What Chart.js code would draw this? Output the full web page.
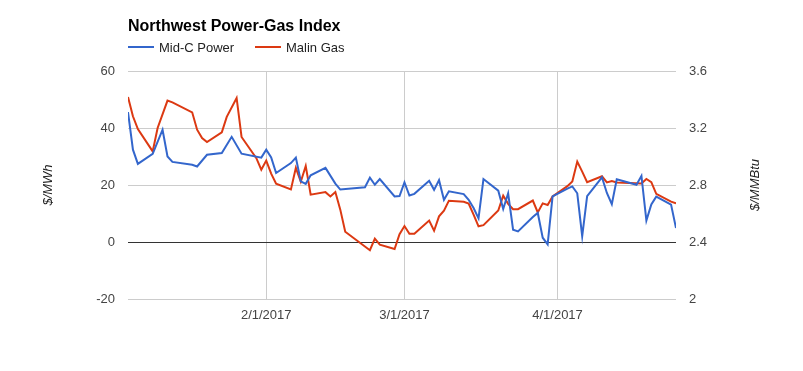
<!DOCTYPE html>
<html>
<head>
<meta charset="utf-8">
<script src="https://cdn.jsdelivr.net/npm/chart.js@4/dist/chart.umd.min.js"></script>
<style>
html,body{margin:0;padding:0;background:#fff;}
#wrap{width:803px;height:371px;position:relative;}
</style>
</head>
<body>
<div id="wrap"><canvas id="c" width="803" height="371"></canvas></div>
<script>
const chartTitle = 'Northwest Power-Gas Index';
const seriesNames = ['Mid-C Power', 'Malin Gas'];
const leftAxisTitle = '$/MWh';
const rightAxisTitle = '$/MMBtu';

// x values are day numbers counted from 1 Jan 2017 (= day 0)
const xRange = [3, 114];
const xTickDays = [31, 59, 90];
const xTickLabels = ['2/1/2017', '3/1/2017', '4/1/2017'];

const powerDays = [3,4,5,8,10,11,12,16,17,19,22,24,26,30,31,32,33,36,37,38,39,40,43,45,46,51,52,53,54,57,58,59,60,61,64,65,66,67,68,71,72,73,74,75,78,79,80,81,82,85,86,87,88,89,92,93,94,95,96,99,100,101,102,106,107,108,109,110,113,114];
const powerValues = [45.6,32.4,27.4,30.9,39.4,30.0,28.1,27.1,26.5,30.6,31.2,36.9,31.0,29.6,32.4,29.7,24.2,27.7,29.6,21.3,20.4,23.4,26.0,20.5,18.4,19.2,22.6,20.1,22.1,16.0,16.1,20.9,16.3,16.9,21.5,18.3,21.7,14.8,17.8,16.8,14.8,11.9,8.3,22.1,18.0,11.6,17.1,4.3,3.7,8.8,10.2,1.5,-0.8,16.0,18.7,19.5,17.1,2.0,16.1,22.7,17.2,13.3,22.0,20.1,23.2,7.5,13.2,15.9,13.1,4.9];

const gasDays = [3,4,5,8,9,11,12,16,17,18,19,22,23,25,26,29,30,31,32,33,36,37,38,39,40,43,44,45,46,47,52,53,54,57,58,59,60,61,64,65,66,67,68,71,72,73,74,75,78,79,80,81,82,85,86,87,88,89,92,93,94,95,96,99,100,101,102,107,108,109,110,113,114];
const gasValues = [3.418,3.282,3.193,3.036,3.200,3.392,3.380,3.310,3.188,3.130,3.102,3.170,3.278,3.411,3.137,2.988,2.908,2.971,2.880,2.809,2.769,2.920,2.823,2.934,2.732,2.750,2.720,2.751,2.627,2.472,2.342,2.423,2.381,2.351,2.455,2.512,2.458,2.458,2.550,2.479,2.580,2.620,2.690,2.682,2.670,2.592,2.510,2.518,2.621,2.725,2.668,2.630,2.630,2.691,2.608,2.671,2.660,2.720,2.792,2.825,2.964,2.894,2.820,2.861,2.818,2.828,2.818,2.811,2.842,2.820,2.738,2.683,2.671];

const leftRange = [-20, 60, 20];
const rightRange = [2, 3.6, 0.4];

const seriesColors = ['#3366cc', '#dc3912'];
const FONT = '"Liberation Sans", Arial, Helvetica, sans-serif';

const toPoints = (xs, ys) => xs.map((x, i) => ({x: x, y: ys[i]}));

const textPlugin = {
  id: 'texts',
  afterDraw(chart) {
    const ctx = chart.ctx;
    ctx.save();
    ctx.textAlign = 'left';
    ctx.textBaseline = 'alphabetic';
    ctx.fillStyle = '#000';
    ctx.font = 'bold 16px ' + FONT;
    ctx.fillText(chartTitle, 128, 31);
    // legend
    const legendX = [128, 255];
    ctx.font = '13px ' + FONT;
    seriesNames.forEach((name, i) => {
      ctx.strokeStyle = seriesColors[i];
      ctx.lineWidth = 2;
      ctx.beginPath();
      ctx.moveTo(legendX[i], 47);
      ctx.lineTo(legendX[i] + 26, 47);
      ctx.stroke();
      ctx.fillStyle = '#222';
      ctx.fillText(name, legendX[i] + 31, 52);
    });
    // axis titles
    ctx.font = 'italic 13px ' + FONT;
    ctx.fillStyle = '#222';
    ctx.textAlign = 'center';
    ctx.textBaseline = 'middle';
    const midY = (chart.chartArea.top + chart.chartArea.bottom) / 2;
    [[48, leftAxisTitle], [755, rightAxisTitle]].forEach(([x, t]) => {
      ctx.save();
      ctx.translate(x, midY);
      ctx.rotate(-Math.PI / 2);
      ctx.fillText(t, 0, 0);
      ctx.restore();
    });
    ctx.restore();
  }
};

new Chart(document.getElementById('c'), {
  type: 'line',
  data: {
    datasets: [
      {label: seriesNames[0], data: toPoints(powerDays, powerValues), yAxisID: 'y',
       borderColor: seriesColors[0], backgroundColor: seriesColors[0], borderWidth: 2,
       pointRadius: 0, tension: 0, fill: false},
      {label: seriesNames[1], data: toPoints(gasDays, gasValues), yAxisID: 'y1',
       borderColor: seriesColors[1], backgroundColor: seriesColors[1], borderWidth: 2,
       pointRadius: 0, tension: 0, fill: false}
    ]
  },
  options: {
    responsive: false,
    animation: false,
    devicePixelRatio: 1,
    layout: {padding: {top: 71, left: 0, right: 0, bottom: 0}},
    plugins: {legend: {display: false}, title: {display: false}, tooltip: {enabled: false}},
    scales: {
      x: {
        type: 'linear', position: 'bottom', min: xRange[0], max: xRange[1],
        afterBuildTicks: s => { s.ticks = xTickDays.map(v => ({value: v})); },
        afterFit: s => { s.height = 72; },
        ticks: {
          autoSkip: false, maxRotation: 0, padding: 9, color: '#444',
          font: {family: FONT, size: 13},
          callback: v => { const i = xTickDays.indexOf(v); return i >= 0 ? xTickLabels[i] : ''; }
        },
        grid: {color: '#cccccc', drawTicks: false},
        border: {display: false}
      },
      y: {
        type: 'linear', position: 'left', min: leftRange[0], max: leftRange[1],
        afterFit: s => { s.width = 128; },
        ticks: {stepSize: leftRange[2], padding: 13, color: '#444', font: {family: FONT, size: 13}},
        grid: {color: c => (c.tick && c.tick.value === 0) ? '#333333' : '#cccccc', drawTicks: false},
        border: {display: false}
      },
      y1: {
        type: 'linear', position: 'right', min: rightRange[0], max: rightRange[1],
        afterFit: s => { s.width = 127; },
        ticks: {stepSize: rightRange[2], padding: 13, color: '#444', font: {family: FONT, size: 13},
                callback: v => String(+Number(v).toFixed(1))},
        grid: {display: false, drawTicks: false},
        border: {display: false}
      }
    }
  },
  plugins: [textPlugin]
});
</script>
</body>
</html>
